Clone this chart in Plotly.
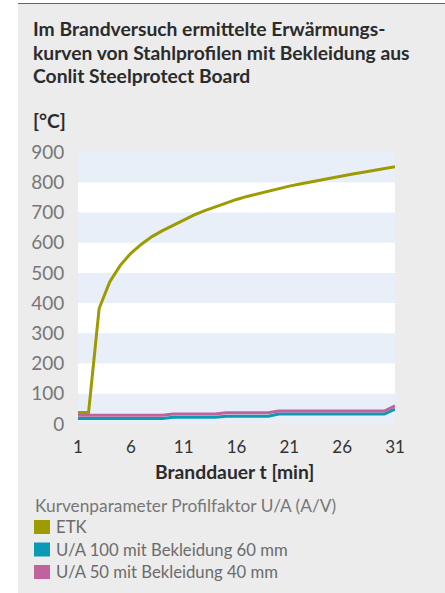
import plotly.graph_objects as go

# ---- data ----
minutes = list(range(1, 32))
etk = [38, 38, 382, 470, 525, 565, 595, 620, 640, 658, 675, 692, 706, 719, 731, 743,
       753, 762, 771, 779, 787, 794, 801, 808, 815, 821, 827, 833, 839, 845, 851]
ua100_60 = [18]*9 + [22]*5 + [26]*5 + [33]*11 + [49]
ua50_40 = [29]*9 + [33]*5 + [37]*5 + [43]*11 + [60]

series_names = ["ETK", "U/A 100 mit Bekleidung 60 mm", "U/A 50 mit Bekleidung 40 mm"]
series_colors = ["#9c9b00", "#0a9ab4", "#c2629c"]
y_ticks = list(range(0, 901, 100))
x_ticks = [1, 6, 11, 16, 21, 26, 31]

title_lines = ["Im Brandversuch ermittelte Erwärmungs-",
               "kurven von Stahlprofilen mit Bekleidung aus",
               "Conlit Steelprotect Board"]
y_unit = "[°C]"
x_title = "Branddauer t [min]"
legend_title = "Kurvenparameter Profilfaktor U/A (A/V)"

W, H = 445, 593
L, R, T, B = 78, 395, 152, 424  # plot area in px


def xp(px):
    return (px - L) / (R - L)


def yp(py):
    return (B - py) / (B - T)


fig = go.Figure()
for name, vals, col in zip(series_names, [etk, ua100_60, ua50_40], series_colors):
    fig.add_trace(go.Scatter(x=minutes, y=vals, mode="lines", name=name,
                             line=dict(color=col, width=3), showlegend=False))

shapes = []
shapes.append(dict(type="rect", xref="paper", yref="paper", x0=xp(0), x1=xp(18), y0=yp(H), y1=yp(0),
                   fillcolor="white", line_width=0, layer="below"))
shapes.append(dict(type="rect", xref="paper", yref="paper", x0=xp(18), x1=xp(W), y0=yp(3), y1=yp(0),
                   fillcolor="white", line_width=0, layer="below"))
shapes.append(dict(type="line", xref="paper", yref="paper", x0=xp(18), x1=xp(W), y0=yp(3.5), y1=yp(3.5),
                   line=dict(color="#666666", width=1)))
for lo in range(0, 900, 200):
    shapes.append(dict(type="rect", xref="paper", yref="y", x0=0, x1=1, y0=lo, y1=lo + 100,
                       fillcolor="#e9eff9", line_width=0, layer="below"))
shapes.append(dict(type="rect", xref="paper", yref="y", x0=0, x1=1, y0=800, y1=900,
                   fillcolor="#e9eff9", line_width=0, layer="below"))

bold_font = dict(family="Lato", size=19.3, color="#2b2b2b")
annotations = []
for i, line in enumerate(title_lines):
    annotations.append(dict(text="<b>" + line + "</b>", xref="paper", yref="paper",
                            x=xp(31), y=yp(28.5 + 23.5 * i), xanchor="left", yanchor="middle",
                            showarrow=False, font=bold_font))
annotations.append(dict(text="<b>" + y_unit + "</b>", xref="paper", yref="paper",
                        x=xp(31), y=yp(121), xanchor="left", yanchor="middle",
                        showarrow=False, font=bold_font))
annotations.append(dict(text="<b>" + x_title + "</b>", xref="paper", yref="paper",
                        x=xp(234), y=yp(471), xanchor="center", yanchor="middle",
                        showarrow=False, font=bold_font))
annotations.append(dict(text=legend_title, xref="paper", yref="paper",
                        x=xp(33), y=yp(505), xanchor="left", yanchor="middle",
                        showarrow=False, font=dict(family="Lato", size=17.3, color="#777777")))
for i, (name, col) in enumerate(zip(series_names, series_colors)):
    cy = 527 + 22.5 * i
    shapes.append(dict(type="rect", xref="paper", yref="paper", x0=xp(34), x1=xp(50),
                       y0=yp(cy + 7), y1=yp(cy - 7), fillcolor=col, line_width=0))
    annotations.append(dict(text=name, xref="paper", yref="paper",
                            x=xp(54), y=yp(cy), xanchor="left", yanchor="middle",
                            showarrow=False, font=dict(family="Lato", size=16.7, color="#6b6b6b")))

fig.update_layout(
    width=W, height=H,
    margin=dict(l=L, r=W - R, t=T, b=H - B, pad=0),
    paper_bgcolor="#ececec", plot_bgcolor="white",
    shapes=shapes, annotations=annotations,
    xaxis=dict(range=[1, 31], tickvals=x_ticks, showgrid=False, zeroline=False, showline=False,
               ticks="outside", ticklen=8, tickcolor="rgba(0,0,0,0)",
               tickfont=dict(family="Lato", size=17, color="#333333")),
    yaxis=dict(range=[0, 900], tickvals=y_ticks, showgrid=False, zeroline=False, showline=False,
               ticks="outside", ticklen=9, tickcolor="rgba(0,0,0,0)",
               tickfont=dict(family="Lato", size=19, color="#777777")),
)

fig.write_html("out.html", config={"displayModeBar": False},
               post_script="document.body.style.margin='0';")
